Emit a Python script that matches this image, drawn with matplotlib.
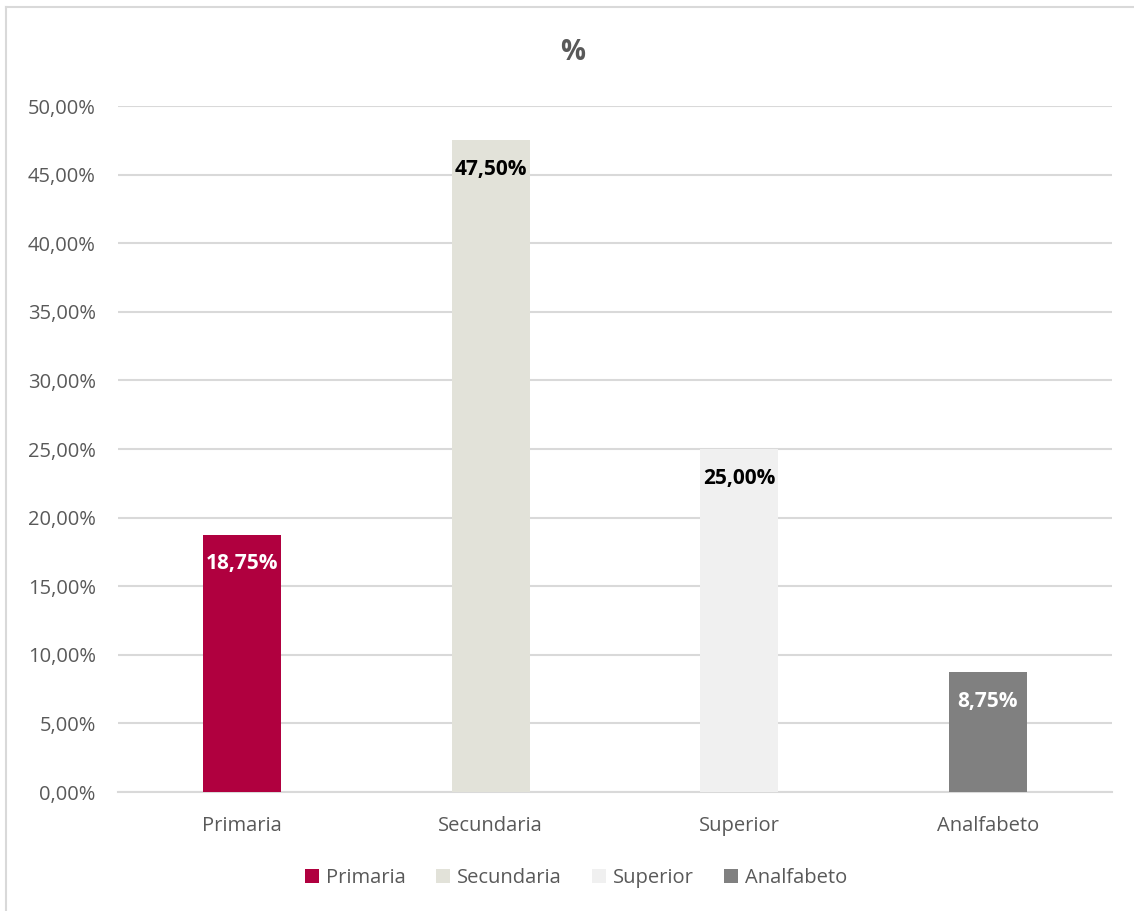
import matplotlib
matplotlib.use("Agg")
import matplotlib.pyplot as plt
from matplotlib.patches import Patch
from matplotlib.ticker import FuncFormatter

categories = ["Primaria", "Secundaria", "Superior", "Analfabeto"]
values = [0.1875, 0.4750, 0.2500, 0.0875]
labels = ["18,75%", "47,50%", "25,00%", "8,75%"]
colors = ["#B0003F", "#E2E2D9", "#F0F0F0", "#808080"]
label_colors = ["white", "black", "black", "white"]

plt.rcParams['font.family'] = ['Open Sans', 'DejaVu Sans']
txt = "#595959"

fig = plt.figure(figsize=(11.34, 9.11), dpi=100)
ax = fig.add_axes([0.104, 0.1306, 0.8766, 0.753])

x = list(range(len(categories)))
bars = ax.bar(x, values, width=0.314, color=colors, zorder=3)
for b, lab, lc in zip(bars, labels, label_colors):
    ax.annotate(lab, (b.get_x() + b.get_width() / 2, b.get_height()),
                xytext=(0, -21), textcoords="offset points",
                ha="center", va="center", fontsize=15, fontweight="bold",
                color=lc, zorder=4)

ax.set_xlim(-0.5, 3.5)
ax.set_ylim(0, 0.5)
ax.set_yticks([i * 0.05 for i in range(11)])
ax.yaxis.set_major_formatter(FuncFormatter(lambda v, p: f"{v*100:.2f}%".replace(".", ",")))
ax.set_xticks(x)
ax.set_xticklabels(categories)
ax.tick_params(axis="both", length=0, labelsize=14.5, labelcolor=txt)
ax.tick_params(axis="y", pad=16)
ax.tick_params(axis="x", pad=17)
ax.grid(axis="y", color="#D9D9D9", linewidth=1.5, zorder=0)
for s in ["top", "right", "left"]:
    ax.spines[s].set_visible(False)
ax.spines["bottom"].set_color("#D9D9D9")
ax.spines["bottom"].set_linewidth(1.5)

fig.text(0.505, 0.942, "%", ha="center", va="center", fontsize=20,
         fontweight="bold", color=txt)

handles = [Patch(facecolor=c, edgecolor="none") for c in colors]
fig.legend(handles, categories, loc="center", bbox_to_anchor=(0.508, 0.036),
           ncol=4, frameon=False, fontsize=14.5, labelcolor=txt,
           handlelength=0.7, handleheight=0.7, handletextpad=0.35,
           columnspacing=1.5)

# outer border (left and top visible, right/bottom beyond canvas)
fig.add_artist(plt.Line2D([6/1134, 6/1134], [0, 1 - 7/911], color="#D9D9D9", linewidth=1.5))
fig.add_artist(plt.Line2D([6/1134, 1], [1 - 7/911, 1 - 7/911], color="#D9D9D9", linewidth=1.5))

fig.savefig("out.png", dpi=100)
